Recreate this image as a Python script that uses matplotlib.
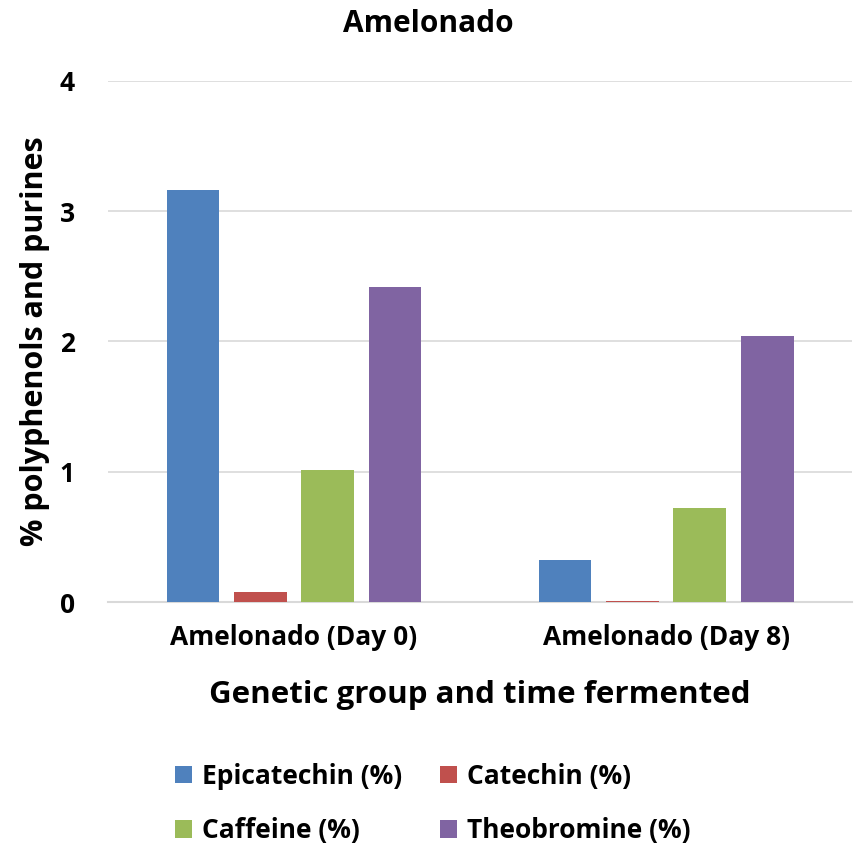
import numpy as np
import matplotlib
matplotlib.use('Agg')
import matplotlib.pyplot as plt

plt.rcParams['font.family'] = ['Open Sans', 'DejaVu Sans']
plt.rcParams['font.weight'] = 'bold'

# ── Data ──────────────────────────────────────────────────────────────────────
groups = ['Amelonado (Day 0)', 'Amelonado (Day 8)']
series = ['Epicatechin (%)', 'Catechin (%)', 'Caffeine (%)', 'Theobromine (%)']
epicatechin = [3.16, 0.32]
catechin    = [0.08, 0.01]
caffeine    = [1.01, 0.72]
theobromine = [2.42, 2.04]
colors = ['#4F81BD', '#C0504D', '#9BBB59', '#8064A2']

# ── Plot ──────────────────────────────────────────────────────────────────────
fig = plt.figure(figsize=(8.59, 8.46), dpi=100)
ax = fig.add_axes([0.1257, 0.2884, 0.8663, 0.6159])

x = np.arange(len(groups))
step = 0.181; w = 0.142
handles = []
for i, (vals, lab, c) in enumerate(zip([epicatechin, catechin, caffeine, theobromine], series, colors)):
    b = ax.bar(x + (i - 1.5) * step, vals, w, color=c, label=lab, zorder=3)
    handles.append(b)

ax.set_xlim(-0.5, 1.5)
ax.set_ylim(0, 4)
ax.set_yticks([0, 1, 2, 3, 4])
ax.set_xticks(x)
ax.set_xticklabels(groups, fontsize=19, fontweight='bold')
for t in ax.get_yticklabels():
    t.set_fontsize(19); t.set_fontweight('bold')
ax.tick_params(axis='x', length=0, pad=16)
ax.tick_params(axis='y', length=0, pad=24)
ax.grid(axis='y', color='#D9D9D9', linewidth=1.2, zorder=0)
for s in ['top', 'right', 'left']:
    ax.spines[s].set_visible(False)
ax.spines['bottom'].set_color('#D9D9D9')
ax.spines['bottom'].set_linewidth(1.5)

fig.text(0.4985, 0.972, 'Amelonado', fontsize=21.5, fontweight='bold', ha='center', va='center')
fig.text(0.5588, 0.179, 'Genetic group and time fermented', fontsize=22.5, fontweight='bold',
         ha='center', va='center')
fig.text(0.041, 0.597, '% polyphenols and purines', fontsize=22, fontweight='bold',
         rotation=90, ha='center', va='center')

# row-wise order: Epicatechin, Catechin / Caffeine, Theobromine
order = [0, 2, 1, 3]
fig.legend([handles[i] for i in order], [series[i] for i in order],
           loc='lower left', bbox_to_anchor=(0.176, -0.026), ncol=2, frameon=False,
           prop={'size': 19, 'weight': 'bold'}, handlelength=0.63, handleheight=0.63,
           handletextpad=0.38, columnspacing=1.45, labelspacing=1.03)

fig.savefig('out.png', dpi=100)
